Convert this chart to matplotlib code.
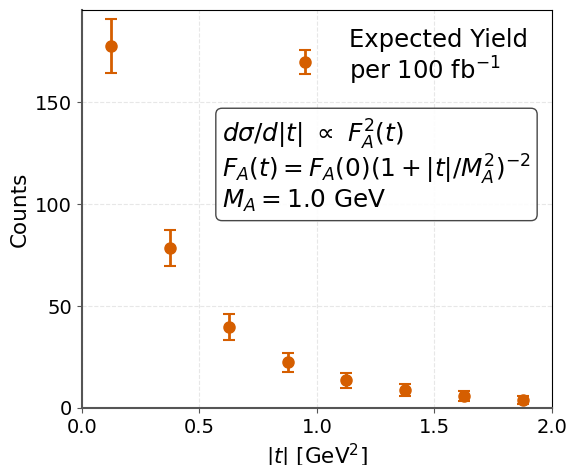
import matplotlib
matplotlib.use('Agg')
import matplotlib.pyplot as plt

# values
t_centers = [0.125, 0.95, 0.375, 0.625, 0.875, 1.125, 1.375, 1.625, 1.875]
counts = [177.5, 169.6, 78.4, 39.9, 22.4, 13.6, 8.7, 5.9, 4.1]
errors = [13.3, 6.0, 8.9, 6.4, 4.7, 3.7, 2.9, 2.4, 2.0]

color = '#d55e00'

fig = plt.figure(figsize=(5.69, 4.65), dpi=100)
ax = fig.add_axes([0.144, 0.1226, 0.826, 0.8554])

ax.errorbar(t_centers, counts, yerr=errors, fmt='o', color=color,
            markersize=8, capsize=4, elinewidth=2, capthick=1.5)

ax.set_xlim(0, 2.0)
ax.set_ylim(0, 195)
ax.set_xticks([0.0, 0.5, 1.0, 1.5, 2.0])
ax.set_yticks([0, 50, 100, 150])
ax.tick_params(labelsize=14, color='#555555')
for side in ['left', 'bottom']:
    ax.spines[side].set_color('#555555')
    ax.spines[side].set_linewidth(1.5)
ax.grid(True, linestyle='--', alpha=0.3)
ax.set_xlabel(r'$|t|$ [GeV$^2$]', fontsize=15.5)
ax.set_ylabel('Counts', fontsize=15.5)

ax.text(0.568, 0.955, 'Expected Yield\nper 100 fb$^{-1}$', transform=ax.transAxes,
        fontsize=17.5, va='top', ha='left', linespacing=1.1)

box_text = (r'$d\sigma/d|t|\ \propto\ F_A^2(t)$' + '\n'
            r'$F_A(t) = F_A(0)(1 + |t|/M_A^2)^{-2}$' + '\n'
            r'$M_A = 1.0$ GeV')
ax.text(0.298, 0.73, box_text, transform=ax.transAxes, fontsize=17.8,
        va='top', ha='left', linespacing=1.05,
        bbox=dict(boxstyle='round,pad=0.25', facecolor='white',
                  edgecolor='#333333', alpha=0.9))

fig.savefig('out.png', dpi=100)
